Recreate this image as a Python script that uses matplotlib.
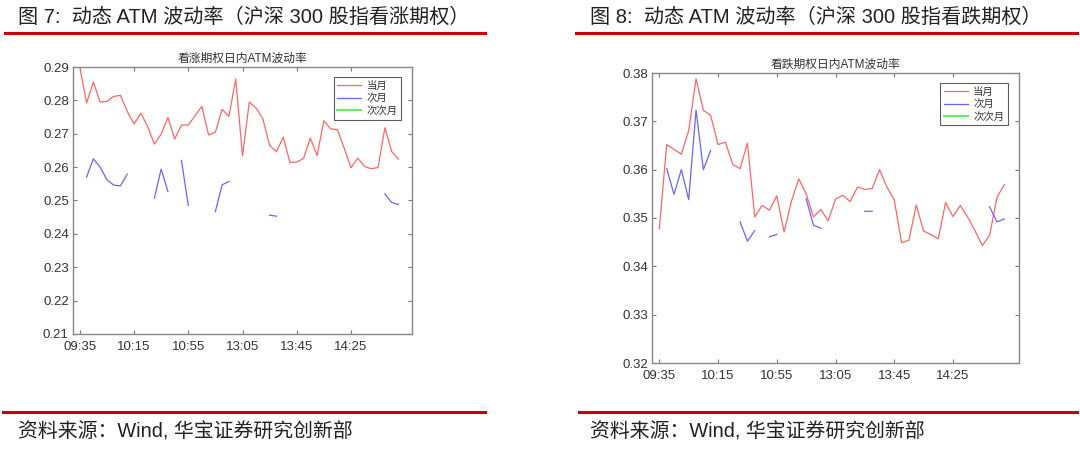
import numpy as np
import matplotlib.pyplot as plt
from matplotlib.lines import Line2D

plt.rcParams['font.family'] = ['Liberation Sans', 'Noto Sans CJK SC', 'DejaVu Sans']

nan = np.nan
x = np.arange(1, 49)
tick_pos = [1, 9, 17, 25, 33, 41]
tick_labels = ['09:35', '10:15', '10:55', '13:05', '13:45', '14:25']

# 看涨期权
call_cur = [0.2900, 0.2792, 0.2855, 0.2795, 0.2797, 0.2812, 0.2815, 0.2767,
            0.2729, 0.2762, 0.2722, 0.2669, 0.2699, 0.2749, 0.2684, 0.2726,
            0.2726, 0.2754, 0.2782, 0.2696, 0.2705, 0.2773, 0.2752, 0.2864,
            0.2634, 0.2795, 0.2777, 0.2745, 0.2665, 0.2646, 0.2690, 0.2614,
            0.2615, 0.2626, 0.2687, 0.2635, 0.2739, 0.2715, 0.2712, 0.2657,
            0.2598, 0.2627, 0.2602, 0.2595, 0.2599, 0.2718, 0.2647, 0.2624]
call_next = [nan, 0.2570, 0.2625, 0.2600, 0.2562, 0.2546, 0.2544, 0.2579,
             nan, nan, nan, 0.2507, 0.2594, 0.2527, nan, 0.2620,
             0.2485, nan, nan, nan, 0.2467, 0.2547, 0.2557, nan,
             nan, nan, nan, nan, 0.2456, 0.2453, nan, nan,
             nan, nan, nan, nan, nan, nan, nan, nan,
             nan, nan, nan, nan, nan, 0.2520, 0.2494, 0.2488]
call_far = [nan] * 48

# 看跌期权
put_cur = [0.3478, 0.3652, 0.3642, 0.3632, 0.3681, 0.3788, 0.3723, 0.3712,
           0.3652, 0.3657, 0.3611, 0.3602, 0.3655, 0.3502, 0.3526, 0.3516,
           0.3546, 0.3471, 0.3535, 0.3581, 0.3550, 0.3502, 0.3518, 0.3494,
           0.3539, 0.3547, 0.3534, 0.3564, 0.3559, 0.3561, 0.3600, 0.3564,
           0.3538, 0.3449, 0.3454, 0.3527, 0.3473, 0.3466, 0.3457, 0.3532,
           0.3503, 0.3526, 0.3502, 0.3474, 0.3443, 0.3464, 0.3543, 0.3569]
put_next = [nan, 0.3602, 0.3549, 0.3600, 0.3538, 0.3723, 0.3600, 0.3640,
            nan, nan, nan, 0.3492, 0.3452, 0.3474, nan, 0.3461,
            0.3466, nan, nan, nan, 0.3540, 0.3485, 0.3479, nan,
            nan, nan, nan, nan, 0.3514, 0.3514, nan, nan,
            nan, nan, nan, nan, nan, nan, nan, nan,
            nan, nan, nan, nan, nan, 0.3523, 0.3492, 0.3498]
put_far = [nan] * 48

W, H = 1080, 450
fig = plt.figure(figsize=(10.8, 4.5), dpi=100)


def box(l, t, r, b):
    return [l / W, 1 - b / H, (r - l) / W, (b - t) / H]


def panel(rect, cur, nxt, far, ylim, yticks, title, leg_anchor):
    ax = fig.add_axes(rect)
    ax.plot(x, cur, color='#ff6666', lw=0.9)
    ax.plot(x, nxt, color='#6666ff', lw=0.9)
    ax.plot(x, far, color='#66ee66', lw=0.9)
    ax.set_xlim(0, 50)
    ax.set_ylim(*ylim)
    ax.set_xticks(tick_pos)
    ax.set_xticklabels(tick_labels)
    ax.set_yticks(yticks)
    ax.set_yticklabels([f'{v:.2f}' for v in yticks])
    ax.tick_params(direction='in', top=True, right=True, length=3,
                   width=0.8, color='#777777', labelsize=9.5,
                   labelcolor='#333333')
    ax.tick_params(axis='x', pad=5)
    ax.tick_params(axis='y', pad=3)
    for s in ax.spines.values():
        s.set_color('#888888')
        s.set_linewidth(1.0)
    ax.set_title(title, fontsize=8.5, color='#333333', pad=4)
    handles = [Line2D([], [], color='#ff6666', lw=0.9),
               Line2D([], [], color='#6666ff', lw=0.9),
               Line2D([], [], color='#66ee66', lw=1.5)]
    leg = ax.legend(handles, ['当月', '次月', '次次月'], loc='upper right',
                    bbox_to_anchor=leg_anchor, fontsize=7.5, frameon=True,
                    fancybox=False, handlelength=2.3, handletextpad=0.5,
                    borderpad=0.35, labelspacing=0.25, borderaxespad=0)
    leg.get_frame().set_edgecolor('#333333')
    leg.get_frame().set_linewidth(0.8)
    for t in leg.get_texts():
        t.set_color('#333333')
    return ax


ax1 = panel(box(73, 67, 412, 334), call_cur, call_next, call_far,
            (0.21, 0.29), np.round(np.arange(0.21, 0.2901, 0.01), 2),
            '看涨期权日内ATM波动率', (0.968, 0.962))
ax2 = panel(box(652, 73, 1019, 363), put_cur, put_next, put_far,
            (0.32, 0.38), np.round(np.arange(0.32, 0.3801, 0.01), 2),
            '看跌期权日内ATM波动率', (0.97, 0.966))

# headings and source lines
red = '#cc0000'
fig.add_artist(Line2D([5 / W, 485 / W], [1 - 33 / H] * 2, color=red, lw=2.2))
fig.add_artist(Line2D([576 / W, 1077 / W], [1 - 33 / H] * 2, color=red, lw=2.2))
fig.add_artist(Line2D([3 / W, 485 / W], [1 - 412 / H] * 2, color=red, lw=2.2))
fig.add_artist(Line2D([579 / W, 1077 / W], [1 - 412 / H] * 2, color=red, lw=2.2))

fig.text(18 / W, 1 - 17 / H, '图 7:  动态 ATM 波动率（沪深 300 股指看涨期权）',
         fontsize=14.5, color='#222222', va='center', ha='left')
fig.text(590 / W, 1 - 17 / H, '图 8:  动态 ATM 波动率（沪深 300 股指看跌期权）',
         fontsize=14.5, color='#222222', va='center', ha='left')
fig.text(18 / W, 1 - 432 / H, '资料来源：Wind, 华宝证券研究创新部',
         fontsize=14.3, color='#222222', va='center', ha='left')
fig.text(590 / W, 1 - 432 / H, '资料来源：Wind, 华宝证券研究创新部',
         fontsize=14.3, color='#222222', va='center', ha='left')

fig.savefig('out.png', dpi=100)
